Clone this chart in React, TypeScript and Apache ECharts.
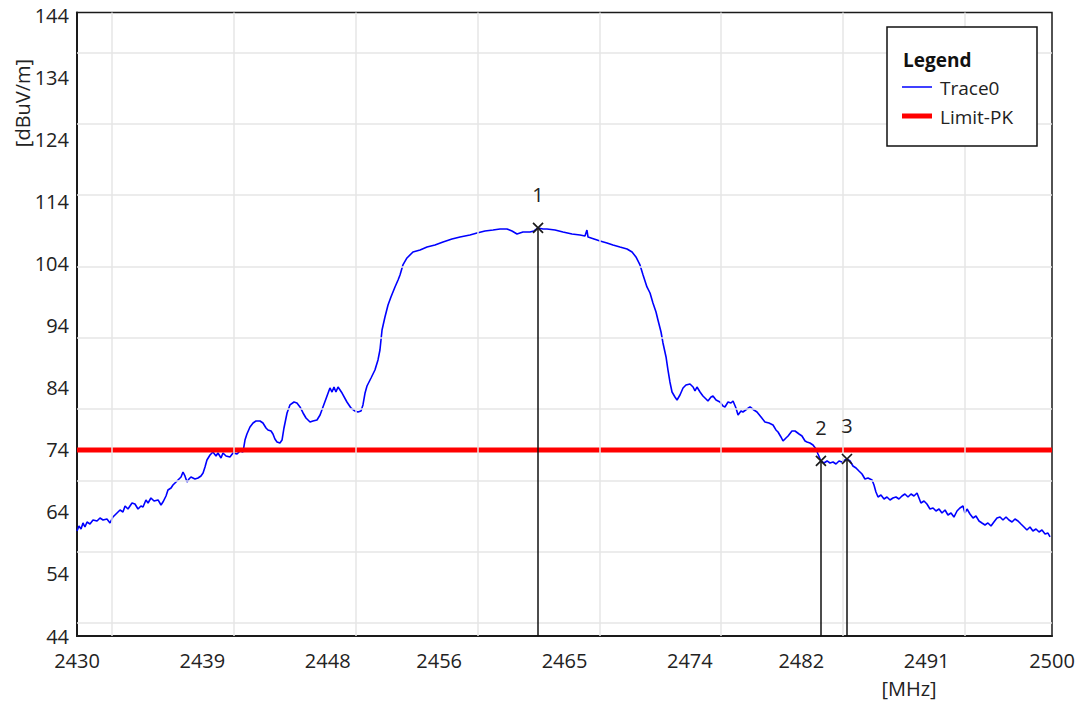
import React, { useEffect, useRef } from 'react';
import * as echarts from 'echarts';

// Frequency axis tick labels (MHz)
const xTickLabels = [2430, 2439, 2448, 2456, 2465, 2474, 2482, 2491, 2500];
// Level axis tick labels (dBuV/m)
const yTickLabels = [44, 54, 64, 74, 84, 94, 104, 114, 124, 134, 144];
// Grid line positions
const xGridLines = [2432.5, 2441.25, 2450, 2458.75, 2467.5, 2476.25, 2485, 2493.75];
const yGridLines = [46.1, 57.6, 69.1, 80.6, 92.1, 103.6, 115.1, 126.6, 138.1];

const limitName = 'Limit-PK';
const limitLevel = 74;
const traceName = 'Trace0';

// Trace0 (frequency in MHz, level in dBuV/m)
const freqMHz = [
  2430.00, 2430.14, 2430.29, 2430.43, 2430.57, 2430.72, 2430.93, 2431.15, 2431.44, 2431.65,
  2431.87, 2432.15, 2432.37, 2432.58, 2432.80, 2433.09, 2433.30, 2433.45, 2433.66, 2433.95,
  2434.16, 2434.38, 2434.59, 2434.74, 2434.95, 2435.10, 2435.31, 2435.53, 2435.82, 2436.03,
  2436.17, 2436.39, 2436.53, 2436.75, 2436.89, 2437.11, 2437.25, 2437.47, 2437.61, 2437.75,
  2437.90, 2438.04, 2438.18, 2438.47, 2438.69, 2438.90, 2439.05, 2439.19, 2439.33, 2439.55,
  2439.76, 2439.98, 2440.12, 2440.34, 2440.48, 2440.70, 2440.98, 2441.20, 2441.49, 2441.70,
  2441.92, 2442.06, 2442.20, 2442.42, 2442.64, 2442.85, 2443.14, 2443.35, 2443.57, 2443.71,
  2443.93, 2444.07, 2444.21, 2444.36, 2444.57, 2444.72, 2444.86, 2445.08, 2445.29, 2445.58,
  2445.79, 2446.01, 2446.23, 2446.44, 2446.73, 2446.94, 2447.23, 2447.45, 2447.66, 2447.95,
  2448.16, 2448.31, 2448.45, 2448.59, 2448.74, 2449.03, 2449.38, 2449.67, 2449.96, 2450.17,
  2450.39, 2450.53, 2450.68, 2450.82, 2451.11, 2451.39, 2451.61, 2451.75, 2451.90, 2452.11,
  2452.33, 2452.54, 2452.83, 2453.05, 2453.19, 2453.40, 2453.69, 2454.12, 2454.63, 2455.13,
  2455.70, 2456.28, 2456.92, 2457.50, 2458.21, 2458.72, 2459.29, 2459.87, 2460.37, 2460.87,
  2461.23, 2461.59, 2462.02, 2462.52, 2462.81, 2463.10, 2463.46, 2463.74, 2464.32, 2464.89,
  2465.54, 2466.11, 2466.47, 2466.61, 2466.69, 2467.12, 2467.55, 2468.05, 2468.48, 2468.98,
  2469.49, 2469.85, 2470.13, 2470.42, 2470.64, 2470.92, 2471.14, 2471.35, 2471.57, 2471.71,
  2471.93, 2472.07, 2472.29, 2472.43, 2472.57, 2472.72, 2472.93, 2473.08, 2473.29, 2473.51,
  2473.72, 2474.01, 2474.23, 2474.37, 2474.51, 2474.73, 2474.94, 2475.16, 2475.30, 2475.52,
  2475.66, 2475.88, 2476.16, 2476.38, 2476.52, 2476.74, 2476.95, 2477.10, 2477.31, 2477.46,
  2477.67, 2477.81, 2478.10, 2478.32, 2478.60, 2478.82, 2479.11, 2479.39, 2479.68, 2479.97,
  2480.18, 2480.33, 2480.54, 2480.69, 2480.90, 2481.05, 2481.33, 2481.55, 2481.84, 2482.05,
  2482.27, 2482.41, 2482.62, 2482.84, 2483.06, 2483.20, 2483.41, 2483.63, 2483.85, 2484.06,
  2484.28, 2484.49, 2484.71, 2484.92, 2485.14, 2485.28, 2485.50, 2485.71, 2485.93, 2486.14,
  2486.36, 2486.57, 2486.79, 2487.08, 2487.22, 2487.36, 2487.51, 2487.72, 2487.94, 2488.15,
  2488.37, 2488.58, 2488.80, 2489.01, 2489.23, 2489.44, 2489.66, 2489.88, 2490.09, 2490.31,
  2490.45, 2490.59, 2490.81, 2491.02, 2491.24, 2491.46, 2491.67, 2491.89, 2492.10, 2492.32,
  2492.53, 2492.75, 2492.96, 2493.18, 2493.39, 2493.61, 2493.75, 2493.90, 2494.11, 2494.33,
  2494.54, 2494.76, 2494.97, 2495.19, 2495.40, 2495.62, 2495.83, 2496.05, 2496.27, 2496.48,
  2496.70, 2496.91, 2497.13, 2497.34, 2497.56, 2497.77, 2497.99, 2498.20, 2498.42, 2498.63,
  2498.85, 2499.07, 2499.28, 2499.50, 2499.71, 2499.86,
];
const traceDbuV = [
  60.94, 61.74, 61.26, 62.23, 61.58, 62.39, 62.06, 62.71, 62.55, 63.03,
  62.71, 62.87, 62.23, 63.19, 63.68, 64.32, 64.00, 64.97, 64.48, 65.45,
  65.29, 64.48, 64.97, 64.81, 65.94, 65.45, 66.26, 65.77, 65.94, 65.13,
  65.61, 66.58, 67.55, 67.87, 68.35, 68.84, 69.16, 69.65, 70.45, 69.81,
  68.84, 69.32, 69.65, 69.32, 69.48, 69.81, 70.29, 71.26, 72.39, 73.19,
  73.68, 73.03, 73.52, 72.71, 73.52, 73.03, 72.87, 73.52, 73.35, 73.84,
  73.68, 75.61, 76.58, 77.71, 78.35, 78.68, 78.68, 78.35, 77.55, 77.23,
  77.06, 76.58, 75.77, 75.29, 75.13, 75.61, 77.55, 79.97, 81.26, 81.74,
  81.58, 80.94, 79.97, 79.16, 78.52, 78.68, 78.84, 79.65, 80.94, 82.71,
  84.00, 83.35, 84.16, 83.35, 84.16, 83.19, 81.74, 80.77, 80.29, 80.13,
  80.29, 81.26, 83.19, 84.32, 85.61, 86.90, 88.52, 90.13, 93.35, 95.45,
  97.39, 98.68, 100.29, 101.42, 102.23, 103.84, 104.97, 105.94, 106.26, 106.74,
  107.06, 107.55, 108.03, 108.35, 108.68, 109.00, 109.32, 109.48, 109.65, 109.65,
  109.32, 108.84, 109.16, 109.16, 109.32, 109.81, 109.65, 109.65, 109.48, 109.16,
  108.84, 108.68, 108.52, 109.48, 108.35, 108.03, 107.71, 107.39, 107.06, 106.74,
  106.42, 105.94, 105.13, 103.84, 102.23, 100.29, 99.32, 97.71, 96.26, 94.97,
  93.03, 91.26, 89.00, 86.90, 84.97, 83.35, 82.55, 82.06, 82.87, 84.00,
  84.48, 84.65, 84.16, 83.52, 84.16, 83.35, 82.71, 82.23, 81.90, 82.55,
  82.71, 82.06, 81.74, 81.10, 80.94, 81.74, 81.58, 81.90, 80.77, 79.65,
  80.29, 80.13, 80.61, 80.94, 80.45, 80.13, 79.32, 78.52, 78.35, 78.03,
  77.23, 76.90, 76.10, 75.45, 75.94, 76.26, 77.06, 77.06, 76.58, 76.26,
  75.45, 75.29, 75.13, 74.81, 74.16, 73.35, 72.23, 71.90, 72.23, 71.90,
  72.06, 71.74, 72.23, 72.06, 72.39, 72.55, 72.23, 71.42, 71.10, 70.61,
  70.13, 69.32, 69.48, 69.16, 68.35, 67.23, 66.42, 66.74, 66.10, 66.42,
  65.94, 66.26, 66.42, 66.10, 66.58, 66.90, 66.42, 66.90, 66.58, 67.06,
  66.26, 65.45, 65.77, 65.29, 64.48, 64.65, 64.16, 64.48, 63.84, 64.32,
  63.52, 63.84, 63.19, 64.16, 64.65, 64.97, 63.84, 64.48, 63.68, 63.03,
  63.35, 62.55, 62.23, 61.90, 62.23, 61.74, 62.39, 63.03, 63.19, 62.71,
  63.19, 62.71, 62.39, 62.87, 62.55, 62.06, 61.58, 61.10, 61.58, 60.94,
  61.26, 60.77, 61.10, 60.45, 60.61, 59.97,
];

// Markers
const markerLabels = ['1', '2', '3'];
const markerFreq = [2463.10, 2483.41, 2485.28];
const markerLevel = [109.81, 72.23, 72.55];

const FONT = '"Open Sans", "Noto Sans", "DejaVu Sans", sans-serif';
const TEXT_COLOR = '#222222';

function isTick(v: number, list: number[]) {
  return Math.abs(v - Math.round(v)) < 1e-6 && list.includes(Math.round(v));
}

export default function App() {
  const ref = useRef<HTMLDivElement>(null);

  useEffect(() => {
    if (!ref.current) return;
    const chart = echarts.init(ref.current, null, { renderer: 'svg' });
    const yMin = yTickLabels[0];
    const option: any = {
      animation: false,
      backgroundColor: '#ffffff',
      grid: {
        left: 77,
        right: 29,
        top: 12.5,
        bottom: 68,
        show: true,
        borderColor: '#1a1a1a',
        borderWidth: 1.5,
        backgroundColor: 'transparent',
      },
      xAxis: {
        type: 'value',
        min: xTickLabels[0],
        max: xTickLabels[xTickLabels.length - 1],
        interval: 1,
        axisLine: { show: true, lineStyle: { color: '#1a1a1a', width: 2 } },
        axisTick: { show: false },
        splitLine: { show: false },
        axisLabel: {
          formatter: (v: number) => (isTick(v, xTickLabels) ? String(Math.round(v)) : ''),
          color: TEXT_COLOR,
          fontSize: 20,
          lineHeight: 20,
          fontFamily: FONT,
          margin: 14,
        },
      },
      yAxis: {
        type: 'value',
        min: yMin,
        max: 144.56,
        interval: 2,
        axisLine: { show: true, lineStyle: { color: '#1a1a1a', width: 2 } },
        axisTick: { show: false },
        splitLine: { show: false },
        axisLabel: {
          formatter: (v: number) => (isTick(v, yTickLabels) ? String(Math.round(v)) : ''),
          color: TEXT_COLOR,
          fontSize: 20,
          lineHeight: 16,
          fontFamily: FONT,
          margin: 8,
        },
      },
      series: [
        {
          type: 'line',
          name: 'grid',
          data: [[xTickLabels[0], yMin]],
          showSymbol: false,
          silent: true,
          z: 1,
          lineStyle: { width: 0 },
          markLine: {
            silent: true,
            symbol: ['none', 'none'],
            label: { show: false },
            lineStyle: { color: '#e6e6e6', width: 1.5, type: 'solid' },
            emphasis: { disabled: true },
            data: [
              ...xGridLines.map((x) => ({ xAxis: x })),
              ...yGridLines.map((y) => ({ yAxis: y })),
            ],
          },
        },
        {
          type: 'line',
          name: traceName,
          data: freqMHz.map((f, i) => [f, traceDbuV[i]]),
          showSymbol: false,
          lineStyle: { color: '#0000ff', width: 1.6 },
          z: 3,
        },
        {
          type: 'line',
          name: limitName,
          data: [
            [xTickLabels[0], limitLevel],
            [xTickLabels[xTickLabels.length - 1], limitLevel],
          ],
          showSymbol: false,
          lineStyle: { color: '#ff0000', width: 5 },
          z: 4,
        },
        {
          type: 'scatter',
          name: 'markers',
          data: markerFreq.map((f, i) => [f, markerLevel[i]]),
          symbol: 'path://M0,0L10,10M10,0L0,10',
          symbolSize: 10,
          itemStyle: {
            color: 'rgba(0,0,0,0)',
            borderColor: '#1a1a1a',
            borderWidth: 1.7,
            opacity: 1,
          },
          label: {
            show: true,
            position: 'top',
            distance: 18,
            formatter: (p: any) => markerLabels[p.dataIndex],
            color: '#222222',
            opacity: 1,
            fontSize: 20,
            fontFamily: FONT,
          },
          z: 6,
          markLine: {
            silent: true,
            symbol: ['none', 'none'],
            label: { show: false },
            lineStyle: { color: '#111111', width: 1.5, type: 'solid' },
            data: markerFreq.map((f, i) => [
              { coord: [f, markerLevel[i]] },
              { coord: [f, yMin] },
            ]),
          },
        },
      ],
      graphic: [
        {
          type: 'text',
          x: 22,
          y: 103,
          rotation: Math.PI / 2,
          z: 100,
          style: {
            text: '[dBuV/m]',
            font: `20px ${FONT}`,
            fill: TEXT_COLOR,
            align: 'center',
            verticalAlign: 'middle',
          },
        },
        {
          type: 'text',
          x: 909,
          y: 688,
          z: 100,
          style: {
            text: '[MHz]',
            font: `20px ${FONT}`,
            fill: TEXT_COLOR,
            align: 'center',
            verticalAlign: 'middle',
          },
        },
        {
          type: 'group',
          z: 100,
          children: [
            {
              type: 'rect',
              z: 100,
              shape: { x: 887, y: 27, width: 150, height: 119 },
              style: { fill: '#ffffff', stroke: '#111111', lineWidth: 1.5 },
            },
            {
              type: 'text',
              z: 101,
              x: 903,
              y: 60,
              style: {
                text: 'Legend',
                font: `bold 19px ${FONT}`,
                fill: '#111111',
                align: 'left',
                verticalAlign: 'middle',
              },
            },
            {
              type: 'line',
              z: 101,
              shape: { x1: 902, y1: 87, x2: 932, y2: 87 },
              style: { stroke: '#0000ff', lineWidth: 1.5 },
            },
            {
              type: 'text',
              z: 101,
              x: 940,
              y: 88,
              style: {
                text: traceName,
                font: `19px ${FONT}`,
                fill: TEXT_COLOR,
                align: 'left',
                verticalAlign: 'middle',
              },
            },
            {
              type: 'line',
              z: 101,
              shape: { x1: 902, y1: 116, x2: 932, y2: 116 },
              style: { stroke: '#ff0000', lineWidth: 5 },
            },
            {
              type: 'text',
              z: 101,
              x: 940,
              y: 117,
              style: {
                text: limitName,
                font: `19px ${FONT}`,
                fill: TEXT_COLOR,
                align: 'left',
                verticalAlign: 'middle',
              },
            },
          ],
        },
      ],
    };
    chart.setOption(option);
    return () => {
      chart.dispose();
    };
  }, []);

  return (
    <div
      ref={ref}
      style={{ position: 'fixed', left: 0, top: 0, width: 1081, height: 704, background: '#fff' }}
    />
  );
}
